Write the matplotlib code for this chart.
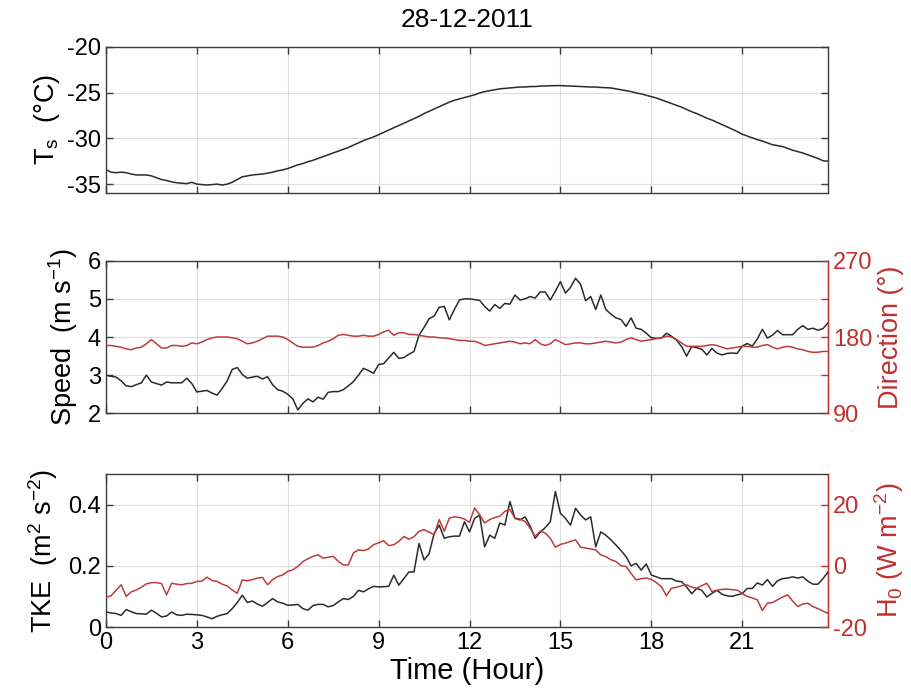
import numpy as np
import matplotlib
matplotlib.use("Agg")
import matplotlib.pyplot as plt
from matplotlib.ticker import FixedLocator, FixedFormatter

plt.rcParams['font.family'] = ['Liberation Sans', 'DejaVu Sans']
plt.rcParams['mathtext.fontset'] = 'custom'
plt.rcParams['mathtext.rm'] = 'Liberation Sans'
plt.rcParams['mathtext.it'] = 'Liberation Sans'
plt.rcParams['axes.unicode_minus'] = False

title = "28-12-2011"
minutes = np.arange(144) * 10          # 10-minute sampling
time_h = minutes / 60.0

ts = [-33.4, -33.7, -33.75, -33.7, -33.75, -33.9,
      -34.0, -34.0, -34.0, -34.1, -34.3, -34.5,
      -34.6, -34.75, -34.85, -34.9, -34.95, -34.8,
      -35.0, -35.05, -35.1, -35.05, -35.0, -35.1,
      -35.0, -34.8, -34.5, -34.2, -34.1, -34.0,
      -33.95, -33.9, -33.8, -33.7, -33.55, -33.45,
      -33.3, -33.1, -32.9, -32.75, -32.55, -32.4,
      -32.2, -32.0, -31.8, -31.6, -31.4, -31.2,
      -31.0, -30.75, -30.5, -30.25, -30.05, -29.85,
      -29.6, -29.35, -29.1, -28.85, -28.6, -28.35,
      -28.1, -27.85, -27.6, -27.3, -27.05, -26.8,
      -26.55, -26.3, -26.05, -25.85, -25.7, -25.55,
      -25.4, -25.25, -25.05, -24.9, -24.8, -24.7,
      -24.6, -24.55, -24.5, -24.45, -24.4, -24.4,
      -24.35, -24.35, -24.3, -24.28, -24.25, -24.25,
      -24.25, -24.27, -24.3, -24.32, -24.35, -24.38,
      -24.4, -24.4, -24.45, -24.48, -24.5, -24.6,
      -24.7, -24.8, -24.9, -25.05, -25.15, -25.3,
      -25.45, -25.6, -25.8, -26.0, -26.2, -26.4,
      -26.6, -26.85, -27.1, -27.3, -27.55, -27.8,
      -28.0, -28.25, -28.5, -28.75, -29.0, -29.25,
      -29.55, -29.75, -29.95, -30.15, -30.3, -30.5,
      -30.7, -30.8, -30.9, -31.1, -31.3, -31.45,
      -31.6, -31.8, -32.0, -32.2, -32.45, -32.5]

speed = [3.00, 2.97, 2.95, 2.85, 2.72, 2.70,
         2.75, 2.80, 3.00, 2.82, 2.78, 2.74,
         2.82, 2.80, 2.80, 2.80, 2.92, 2.78,
         2.56, 2.58, 2.60, 2.53, 2.48, 2.65,
         2.85, 3.15, 3.20, 3.02, 2.92, 2.95,
         2.97, 2.90, 2.96, 2.75, 2.62, 2.58,
         2.50, 2.38, 2.09, 2.26, 2.38, 2.30,
         2.42, 2.37, 2.55, 2.57, 2.57, 2.62,
         2.72, 2.83, 3.00, 3.18, 3.12, 3.05,
         3.28, 3.30, 3.45, 3.60, 3.44, 3.46,
         3.55, 3.62, 4.05, 4.25, 4.48, 4.55,
         4.78, 4.80, 4.45, 4.72, 4.97, 5.00,
         5.00, 4.98, 4.96, 4.80, 4.68, 4.85,
         4.75, 4.88, 4.86, 5.10, 4.97, 5.00,
         5.06, 5.02, 5.18, 5.18, 4.97, 5.20,
         5.45, 5.15, 5.30, 5.54, 5.38, 4.95,
         5.06, 4.72, 5.10, 4.72, 4.60, 4.50,
         4.46, 4.28, 4.50, 4.23, 4.20, 4.10,
         3.98, 3.97, 3.97, 4.10, 4.02, 3.92,
         3.75, 3.50, 3.75, 3.72, 3.68, 3.53,
         3.70, 3.58, 3.53, 3.57, 3.58, 3.57,
         3.76, 3.83, 3.76, 3.95, 4.20, 3.97,
         4.05, 4.17, 4.06, 4.06, 4.06, 4.20,
         4.30, 4.20, 4.23, 4.18, 4.22, 4.37]

direction = [170, 170, 169, 168, 166, 165,
             167, 168, 172, 177, 172, 167,
             167, 170, 170, 169, 170, 173,
             172, 174, 177, 179, 180, 180,
             180, 179, 178, 175, 172, 173,
             175, 178, 181, 181, 181, 180,
             177, 173, 169, 168, 168, 168,
             170, 173, 175, 178, 182, 183,
             182, 181, 181, 182, 181, 181,
             183, 186, 188, 182, 185, 185,
             183, 183, 182, 181, 180, 180,
             179, 179, 178, 177, 176, 176,
             175, 175, 173, 170, 171, 172,
             173, 174, 175, 174, 172, 173,
             172, 177, 172, 170, 172, 177,
             174, 171, 172, 173, 173, 172,
             172, 173, 174, 175, 174, 173,
             174, 177, 179, 177, 175, 176,
             177, 178, 179, 181, 180, 177,
             173, 169, 169, 169, 169, 170,
             171, 170, 168, 166, 167, 168,
             169, 169, 168, 168, 170, 171,
             168, 166, 168, 169, 168, 166,
             165, 163, 162, 162, 163, 163]

tke = [0.049, 0.046, 0.044, 0.038, 0.057, 0.050,
       0.044, 0.043, 0.042, 0.055, 0.045, 0.033,
       0.036, 0.049, 0.040, 0.038, 0.042, 0.041,
       0.040, 0.038, 0.033, 0.027, 0.035, 0.040,
       0.044, 0.060, 0.080, 0.104, 0.080, 0.085,
       0.075, 0.068, 0.080, 0.093, 0.082, 0.078,
       0.071, 0.072, 0.074, 0.060, 0.055, 0.070,
       0.074, 0.074, 0.066, 0.070, 0.082, 0.093,
       0.090, 0.100, 0.120, 0.115, 0.125, 0.133,
       0.131, 0.132, 0.133, 0.169, 0.137, 0.158,
       0.180, 0.180, 0.273, 0.219, 0.240, 0.306,
       0.333, 0.290, 0.295, 0.297, 0.297, 0.344,
       0.311, 0.355, 0.366, 0.262, 0.300, 0.290,
       0.340, 0.333, 0.410, 0.355, 0.350, 0.360,
       0.330, 0.290, 0.310, 0.325, 0.344, 0.443,
       0.372, 0.355, 0.333, 0.388, 0.366, 0.350,
       0.360, 0.262, 0.311, 0.300, 0.285, 0.268,
       0.250, 0.230, 0.200, 0.208, 0.186, 0.206,
       0.170, 0.164, 0.158, 0.158, 0.158, 0.150,
       0.148, 0.131, 0.109, 0.126, 0.120, 0.098,
       0.110, 0.120, 0.107, 0.102, 0.100, 0.105,
       0.109, 0.126, 0.126, 0.144, 0.137, 0.155,
       0.133, 0.151, 0.158, 0.160, 0.164, 0.160,
       0.164, 0.150, 0.140, 0.140, 0.158, 0.180]

h0 = [-10.3, -9.8, -8.0, -6.2, -10.0, -8.5,
      -7.9, -7.0, -5.9, -5.5, -5.5, -5.8,
      -9.5, -5.7, -6.0, -6.2, -5.8, -5.7,
      -5.1, -5.0, -3.7, -4.8, -5.1, -6.0,
      -6.6, -7.9, -9.0, -4.6, -4.9, -4.5,
      -4.0, -3.8, -6.2, -4.5, -3.5, -3.0,
      -1.8, -1.3, -0.2, 1.4, 2.3, 3.1,
      3.6, 2.5, 2.8, 3.1, 1.5, 0.3,
      0.3, 4.2, 5.2, 5.0, 5.5, 6.9,
      7.5, 8.2, 6.6, 6.9, 8.0, 9.6,
      8.7, 9.5, 11.3, 11.8, 11.0, 10.2,
      15.1, 11.3, 15.6, 16.0, 15.8, 15.3,
      14.2, 18.9, 16.7, 14.0, 15.1, 15.8,
      16.2, 17.8, 18.4, 15.6, 15.3, 14.5,
      12.3, 9.6, 11.3, 10.7, 9.0, 6.1,
      7.0, 7.4, 8.0, 8.5, 6.1, 5.8,
      5.5, 5.2, 3.6, 3.0, 2.0, 1.4,
      0.0, -0.2, -2.5, -4.6, -4.2, -4.0,
      -4.4, -5.5, -6.8, -9.8, -7.3, -7.0,
      -6.5, -6.2, -7.0, -7.3, -6.5, -5.7,
      -8.4, -8.0, -7.7, -7.6, -7.8, -7.9,
      -9.0, -10.0, -10.5, -11.1, -14.6, -12.2,
      -12.0, -11.1, -10.2, -9.5, -11.5, -13.3,
      -12.5, -12.2, -13.3, -14.0, -14.8, -15.5]

x_ticks = [0, 3, 6, 9, 12, 15, 18, 21]
x_ticklabels = ["0", "3", "6", "9", "12", "15", "18", "21"]
ts_ticks = [-35, -30, -25, -20]
speed_ticks = [2, 3, 4, 5, 6]
dir_ticks = [90, 135, 180, 225, 270]
dir_ticklabels = ["90", "", "180", "", "270"]
tke_ticks = [0, 0.2, 0.4]
tke_ticklabels = ["0", "0.2", "0.4"]
h0_ticks = [-20, 0, 20]
h0_ticklabels = ["-20", "0", "20"]

BLACK = '#2b2b2b'
RED = '#c0302f'
RED_LINE = '#bb3d40'
SPINE = '#3c3c3c'
GRID = '#dedede'
TICK_FS = 17
LABEL_FS = 19.5

fig = plt.figure(figsize=(9.12, 6.92), dpi=100)
L, W = 0.1162, 0.7917
ax1 = fig.add_axes([L, 0.7207, W, 0.2118])
ax2 = fig.add_axes([L, 0.4027, W, 0.2206])
ax3 = fig.add_axes([L, 0.0939, W, 0.2211])

xmax = time_h[-1]


def style(ax):
    ax.set_xlim(0, xmax)
    ax.xaxis.set_major_locator(FixedLocator(x_ticks))
    ax.grid(True, color=GRID, linewidth=0.8)
    ax.set_axisbelow(True)
    ax.tick_params(direction='in', length=5, width=1, colors=SPINE,
                   labelsize=TICK_FS, labelcolor='black', top=True, right=True)
    for s in ax.spines.values():
        s.set_color(SPINE)
        s.set_linewidth(1.0)


def style_right(axr):
    axr.tick_params(direction='in', length=5, width=1, colors=RED,
                    labelsize=TICK_FS, labelcolor=RED)
    axr.spines['right'].set_color(RED)
    for side in ('left', 'top', 'bottom'):
        axr.spines[side].set_visible(False)


# Top panel
style(ax1)
ax1.plot(time_h, ts, color=BLACK, lw=1.1)
ax1.set_ylim(-36, -20)
ax1.set_yticks(ts_ticks)
ax1.set_xticklabels([])
ax1.set_ylabel(r'T$_{\mathregular{s}}$  (°C)', fontsize=LABEL_FS)
ax1.set_title(title, fontsize=19, pad=14)

# Middle panel
style(ax2)
ax2.tick_params(right=False)
ax2.plot(time_h, speed, color=BLACK, lw=1.1, zorder=3)
ax2.set_ylim(2, 6)
ax2.set_yticks(speed_ticks)
ax2.set_xticklabels([])
ax2.set_ylabel(r'Speed  (m s$^{\mathregular{-1}}$)', fontsize=LABEL_FS, labelpad=6)
ax2r = ax2.twinx()
ax2r.plot(time_h, direction, color=RED_LINE, lw=1.1)
ax2r.set_ylim(90, 270)
ax2r.set_yticks(dir_ticks)
ax2r.set_yticklabels(dir_ticklabels)
style_right(ax2r)
ax2r.set_ylabel('Direction (°)', fontsize=LABEL_FS, color=RED)

# Bottom panel
style(ax3)
ax3.tick_params(right=False)
ax3.plot(time_h, tke, color=BLACK, lw=1.1, zorder=3)
ax3.set_ylim(0, 0.5)
ax3.yaxis.set_major_locator(FixedLocator(tke_ticks))
ax3.yaxis.set_major_formatter(FixedFormatter(tke_ticklabels))
ax3.set_xticklabels(x_ticklabels)
ax3.set_xlabel('Time (Hour)', fontsize=21, labelpad=2)
ax3.set_ylabel(r'TKE  (m$^{\mathregular{2}}$ s$^{\mathregular{-2}}$)', fontsize=LABEL_FS, labelpad=6)
ax3r = ax3.twinx()
ax3r.plot(time_h, h0, color=RED_LINE, lw=1.1)
ax3r.set_ylim(-20, 30)
ax3r.yaxis.set_major_locator(FixedLocator(h0_ticks))
ax3r.yaxis.set_major_formatter(FixedFormatter(h0_ticklabels))
style_right(ax3r)
ax3r.set_ylabel(r'H$_{\mathregular{0}}$ (W m$^{\mathregular{-2}}$)', fontsize=LABEL_FS, color=RED)

fig.savefig('out.png', dpi=100)
